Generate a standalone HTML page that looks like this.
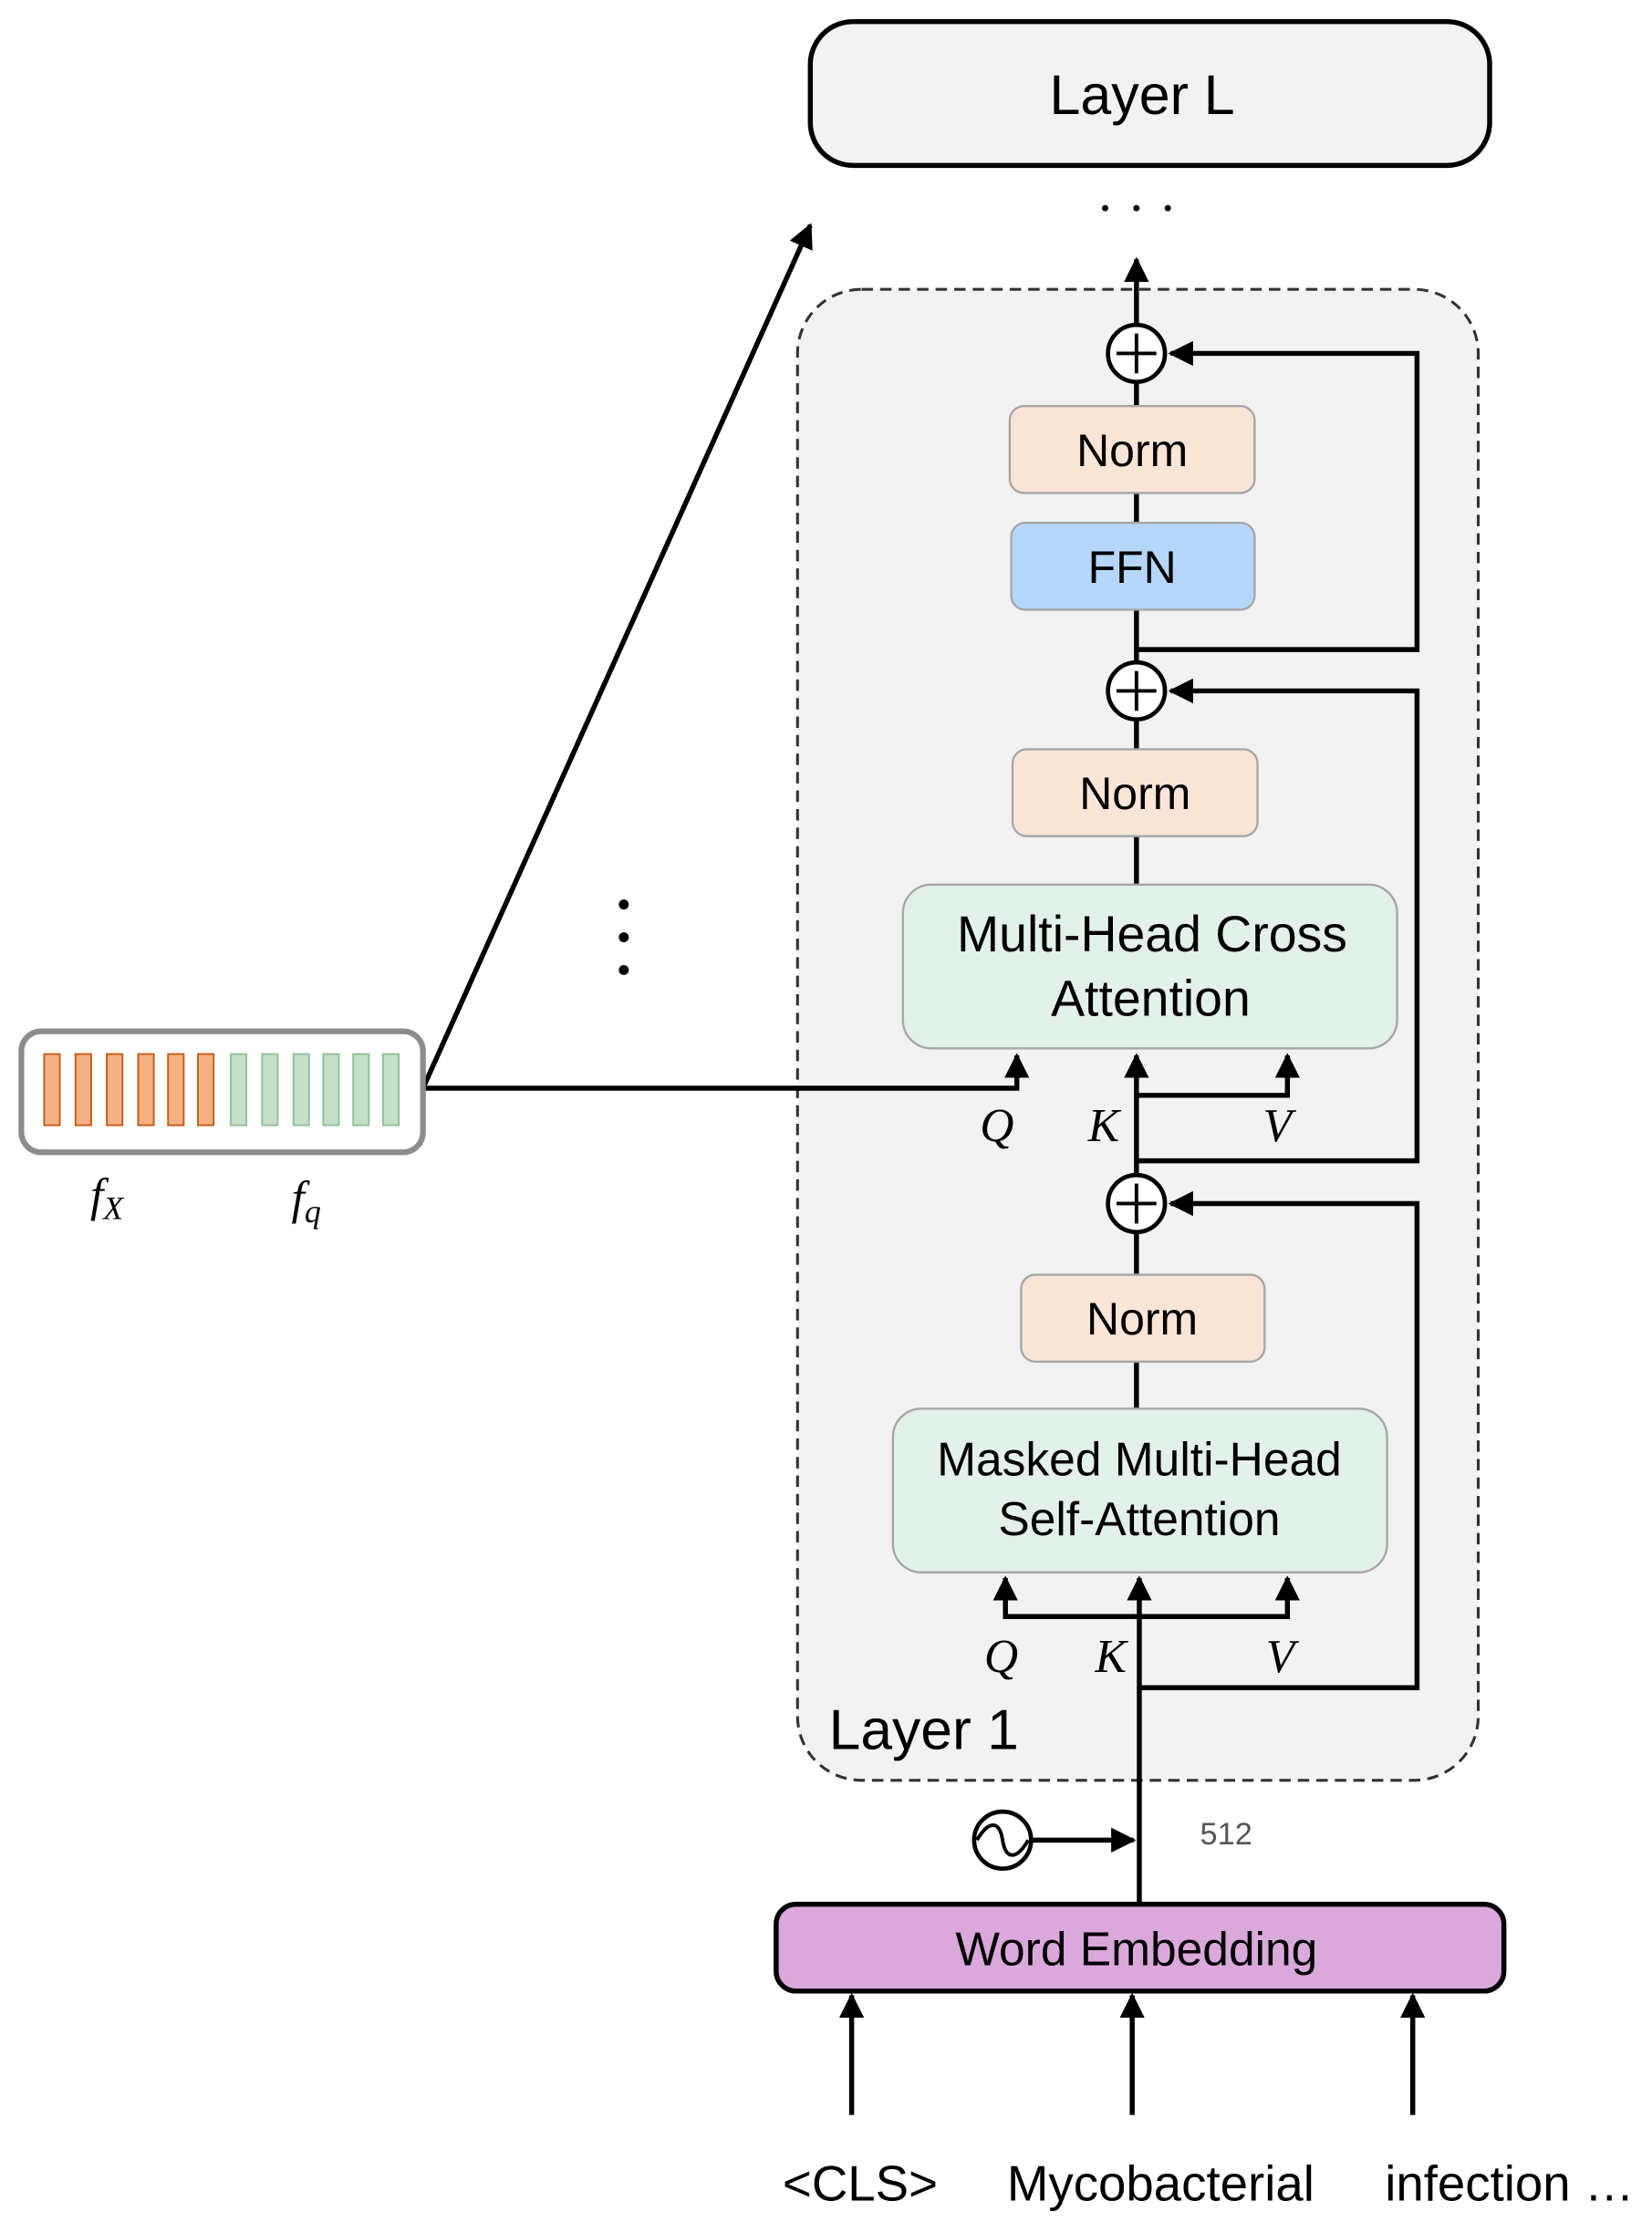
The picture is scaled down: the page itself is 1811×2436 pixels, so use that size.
<!DOCTYPE html>
<html><head><meta charset="utf-8"><style>html,body{margin:0;padding:0;background:#fff}svg{display:block}</style></head>
<body>
<svg width="1811" height="2436" viewBox="0 0 1160 1560" xmlns="http://www.w3.org/2000/svg" font-family="Liberation Sans, sans-serif">
<defs>
<marker id="a" markerWidth="5" markerHeight="5" refX="4.5" refY="2.5" orient="auto" markerUnits="strokeWidth"><path d="M0,0 L5,2.5 L0,5 z" fill="#000"/></marker>
</defs>
<rect x="569" y="15" width="477" height="101" rx="30" fill="#f2f2f2" stroke="#000" stroke-width="3.5"/>
<text x="802" y="80" font-size="39" text-anchor="middle">Layer L</text>
<circle cx="776" cy="146" r="2.2"/><circle cx="798" cy="146" r="2.2"/><circle cx="820" cy="146" r="2.2"/>
<rect x="560" y="203" width="478" height="1047" rx="45" fill="#f2f2f2" stroke="#333" stroke-width="2" stroke-dasharray="8,5"/>
<g stroke="#000" stroke-width="3.5" fill="none">
<line x1="798" y1="228" x2="798" y2="182" marker-end="url(#a)"/>
<line x1="798" y1="268" x2="798" y2="465"/>
<line x1="798" y1="505" x2="798" y2="621"/>
<polyline points="798,456 995,456 995,248 822,248" marker-end="url(#a)"/>
<line x1="798" y1="825" x2="798" y2="741" marker-end="url(#a)"/>
<polyline points="798,769 904,769 904,741" marker-end="url(#a)"/>
<polyline points="297,764 714,764 714,741" marker-end="url(#a)"/>
<polyline points="798,815 995,815 995,485 822,485" marker-end="url(#a)"/>
<line x1="798" y1="865" x2="798" y2="989"/>
<line x1="800" y1="1337" x2="800" y2="1108" marker-end="url(#a)"/>
<polyline points="706,1113 706,1135 904,1135 904,1113"/>
<line x1="706" y1="1120" x2="706" y2="1108" marker-end="url(#a)"/>
<line x1="904" y1="1120" x2="904" y2="1108" marker-end="url(#a)"/>
<polyline points="800,1185 995,1185 995,845 822,845" marker-end="url(#a)"/>
<line x1="724" y1="1292" x2="796" y2="1292" marker-end="url(#a)"/>
<line x1="297" y1="764" x2="569" y2="158" marker-end="url(#a)"/>
<line x1="598" y1="1485" x2="598" y2="1401" marker-end="url(#a)"/>
<line x1="795" y1="1485" x2="795" y2="1401" marker-end="url(#a)"/>
<line x1="992" y1="1485" x2="992" y2="1401" marker-end="url(#a)"/>
</g>
<g fill="#fff" stroke="#000" stroke-width="3">
<circle cx="798" cy="248" r="20"/><circle cx="798" cy="485" r="20"/><circle cx="798" cy="845" r="20"/>
<circle cx="704" cy="1292" r="20"/>
</g>
<g stroke="#000" stroke-width="2.5" fill="none">
<path d="M798,234 V262 M784,248 H812"/><path d="M798,471 V499 M784,485 H812"/><path d="M798,831 V859 M784,845 H812"/>
<path d="M686,1292 C694,1278 702,1278 704,1292 C706,1306 714,1306 722,1292"/>
</g>
<g stroke="#a6a6a6" stroke-width="1.5">
<rect x="709" y="285" width="172" height="61" rx="10" fill="#fbe5d6"/>
<rect x="710" y="367" width="171" height="61" rx="10" fill="#b4d7fb"/>
<rect x="711" y="526" width="172" height="61" rx="10" fill="#fbe5d6"/>
<rect x="634" y="621" width="347" height="115" rx="20" fill="#e2f1ea"/>
<rect x="717" y="895" width="171" height="61" rx="10" fill="#fbe5d6"/>
<rect x="627" y="989" width="347" height="115" rx="20" fill="#e2f1ea"/>
</g>
<g font-size="32" text-anchor="middle">
<text x="795" y="327">Norm</text><text x="795" y="409">FFN</text><text x="797" y="568">Norm</text><text x="802" y="937">Norm</text>
<text x="809" y="668" font-size="35.5">Multi-Head Cross</text><text x="808" y="713" font-size="35.5">Attention</text>
<text x="800" y="1036" font-size="33">Masked Multi-Head</text><text x="800" y="1078" font-size="33">Self-Attention</text>
</g>
<g font-family="Liberation Serif, serif" font-style="italic" font-size="33" text-anchor="middle">
<text x="700" y="801">Q</text><text x="775" y="801">K</text><text x="897" y="801">V</text>
<text x="703" y="1174">Q</text><text x="780" y="1174">K</text><text x="899" y="1174">V</text>
<text x="75" y="850">f<tspan font-size="23" dy="6">X</tspan></text>
<text x="215" y="852">f<tspan font-size="23" dy="6">q</tspan></text>
</g>
<text x="582" y="1228" font-size="40">Layer 1</text>
<text x="861" y="1295" font-size="22" fill="#555" text-anchor="middle">512</text>
<rect x="545" y="1337" width="511" height="61" rx="14" fill="#dba8db" stroke="#000" stroke-width="3.5"/>
<text x="798" y="1380" font-size="33" text-anchor="middle">Word Embedding</text>
<g font-size="35" text-anchor="middle">
<text x="604" y="1545">&lt;CLS&gt;</text><text x="815" y="1545">Mycobacterial</text><text x="1060" y="1545">infection …</text>
</g>
<rect x="15" y="724" width="282" height="85" rx="14" fill="#fff" stroke="#8c8c8c" stroke-width="4"/>
<g stroke-width="1.2">
<rect x="31" y="740" width="11" height="50" fill="#f4b183" stroke="#c55a11"/>
<rect x="53" y="740" width="11" height="50" fill="#f4b183" stroke="#c55a11"/>
<rect x="75" y="740" width="11" height="50" fill="#f4b183" stroke="#c55a11"/>
<rect x="97" y="740" width="11" height="50" fill="#f4b183" stroke="#c55a11"/>
<rect x="118" y="740" width="11" height="50" fill="#f4b183" stroke="#c55a11"/>
<rect x="139" y="740" width="11" height="50" fill="#f4b183" stroke="#c55a11"/>
<rect x="162" y="740" width="11" height="50" fill="#c5e0c8" stroke="#8fbf95"/>
<rect x="184" y="740" width="11" height="50" fill="#c5e0c8" stroke="#8fbf95"/>
<rect x="206" y="740" width="11" height="50" fill="#c5e0c8" stroke="#8fbf95"/>
<rect x="227" y="740" width="11" height="50" fill="#c5e0c8" stroke="#8fbf95"/>
<rect x="248" y="740" width="11" height="50" fill="#c5e0c8" stroke="#8fbf95"/>
<rect x="269" y="740" width="11" height="50" fill="#c5e0c8" stroke="#8fbf95"/>
</g>
<circle cx="438" cy="635" r="3.5"/><circle cx="438" cy="658" r="3.5"/><circle cx="438" cy="681" r="3.5"/>
</svg>
</body></html>
